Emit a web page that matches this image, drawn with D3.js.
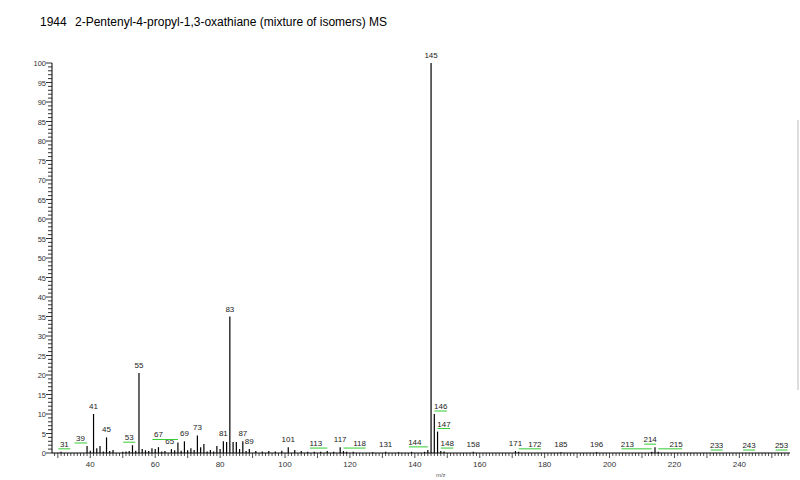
<!DOCTYPE html><html><head><meta charset="utf-8"><script src="https://cdn.jsdelivr.net/npm/d3@7"></script>
<style>body{margin:0;background:#fff}text{font-family:"Liberation Sans",Arial,sans-serif}</style></head><body>
<svg id="c" width="800" height="480"></svg>
<script>
const titleId="1944";
const titleText="2-Pentenyl-4-propyl-1,3-oxathiane (mixture of isomers) MS";
const mzValues=[31,39,40,41,42,43,44,45,46,47,50,51,52,53,54,55,56,57,58,59,60,61,62,63,65,66,67,68,69,70,71,72,73,74,75,76,77,78,79,80,81,82,83,84,85,86,87,88,89,91,93,95,97,99,101,103,105,107,109,111,113,115,117,118,119,121,127,131,135,139,143,144,145,146,147,148,149,158,171,172,185,196,213,214,215];
const intensities=[0.3,1.8,0.6,10,1.2,1.8,0.4,4,0.5,0.8,0.3,0.4,0.5,2,0.6,20.5,1,0.7,0.5,1.2,1,1.5,0.4,0.5,1,0.7,2.7,0.6,3,0.7,1.2,0.8,4.5,1.5,2.3,0.4,0.8,0.4,1.8,1,3,2.8,35,2.8,2.8,1,3,0.5,1,0.5,0.4,0.5,0.4,0.6,1.5,0.8,0.5,0.3,0.3,0.3,0.5,0.3,1.5,0.5,0.3,0.3,0.2,0.3,0.2,0.3,0.3,0.8,100,10,5.5,0.5,0.4,0.3,0.5,0.3,0.2,0.2,0.3,1.5,0.3];
const peakLabels=[31,39,41,45,53,55,65,67,69,73,81,83,87,89,101,113,117,118,131,144,145,146,147,148,158,171,172,185,196,213,214,215,233,243,253];
const labelAt=[32,37,41,45,52,55,64.5,61,69,73,81,83,87,89,101,109.5,117,123,131,140,145,148,149,150,158,171,177,185,196,205.5,212.5,220.5,233,243,253];
const yTicks=[0,5,10,15,20,25,30,35,40,45,50,55,60,65,70,75,80,85,90,95,100];
const xTicks=[40,60,80,100,120,140,160,180,200,220,240];

const svg=d3.select("#c");
svg.append("text").attr("x",40).attr("y",26).attr("font-size",12).text(titleId);
svg.append("text").attr("x",75).attr("y",26).attr("font-size",12).text(titleText);
const x=d3.scaleLinear().domain([28.2,255.6]).range([52,790]);
const y=d3.scaleLinear().domain([0,100]).range([453,63]);
const g=svg.append("g");
g.append("line").attr("x1",52).attr("x2",52).attr("y1",y(0)).attr("y2",y(100)).attr("stroke","#000");
d3.range(0,101).forEach(v=>g.append("line").attr("x1",52).attr("x2",v%5?48:46).attr("y1",y(v)).attr("y2",y(v)).attr("stroke","#000").attr("stroke-width",0.8));
yTicks.forEach(v=>g.append("text").attr("x",46).attr("y",y(v)+3).attr("text-anchor","end").attr("font-size",7.5).attr("fill","#333").text(v));
g.append("line").attr("x1",52).attr("x2",790).attr("y1",453).attr("y2",453).attr("stroke","#000");
d3.range(29,256).forEach(v=>g.append("line").attr("x1",x(v)).attr("x2",x(v)).attr("y1",453).attr("y2",v%10?456:458).attr("stroke","#000").attr("stroke-width",0.7));
xTicks.forEach(v=>g.append("text").attr("x",x(v)).attr("y",467).attr("text-anchor","middle").attr("font-size",8).attr("fill","#333").text(v));
g.append("text").attr("x",x(148)).attr("y",477).attr("text-anchor","middle").attr("font-size",6).attr("fill","#555").text("m/z");
mzValues.forEach((m,i)=>g.append("line").attr("x1",x(m)).attr("x2",x(m)).attr("y1",453).attr("y2",y(intensities[i])).attr("stroke","#000").attr("stroke-width",1.2));
peakLabels.forEach((m,i)=>{
  const idx=mzValues.indexOf(m); const v=idx<0?0:intensities[idx];
  const ly=y(v)-4, lx=x(labelAt[i]);
  if(Math.abs(labelAt[i]-m)>0.5 || idx<0){
    g.append("line").attr("x1",Math.min(x(m),lx-6)).attr("x2",Math.max(x(m),lx+6)).attr("y1",ly+1).attr("y2",ly+1).attr("stroke","#3c3").attr("stroke-width",1);
  }
  g.append("text").attr("x",lx).attr("y",ly-1).attr("text-anchor","middle").attr("font-size",8).attr("fill","#222").text(m);
});
svg.append("line").attr("x1",798).attr("x2",798).attr("y1",120).attr("y2",390).attr("stroke","#bbb");
</script></body></html>
